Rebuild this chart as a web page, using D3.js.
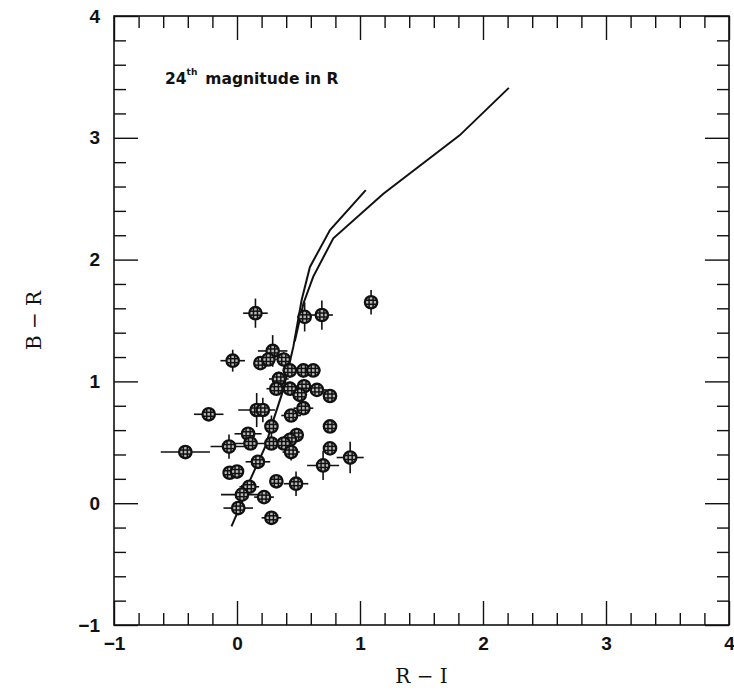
<!DOCTYPE html>
<html>
<head>
<meta charset="utf-8">
<script src="https://cdn.jsdelivr.net/npm/d3@7"></script>
<style>
  html, body { margin: 0; padding: 0; background: #fff; }
  svg { display: block; }
</style>
</head>
<body>
<svg id="chart" width="734" height="690"></svg>
<script>
// R - I colour of each galaxy
const riValues = [0.15, 1.09, 0.55, 0.69, -0.035, 0.29, 0.19, 0.255, 0.38, 0.43,
  0.54, 0.62, 0.34, 0.32, 0.43, 0.545, 0.65, 0.756, 0.51, 0.54,
  0.44, 0.16, 0.21, -0.23, 0.756, 0.28, 0.09, 0.485, 0.43, -0.42,
  -0.065, 0.11, 0.28, 0.38, 0.44, 0.756, 0.92, 0.17, 0.70, -0.06,
  0.0, 0.32, 0.48, 0.10, 0.04, 0.22, 0.01, 0.28];
// B - R colour of each galaxy
const brValues = [1.56, 1.65, 1.53, 1.545, 1.17, 1.25, 1.15, 1.18, 1.18, 1.09,
  1.09, 1.09, 1.02, 0.94, 0.94, 0.96, 0.93, 0.88, 0.89, 0.78,
  0.72, 0.765, 0.765, 0.73, 0.63, 0.63, 0.57, 0.56, 0.52, 0.42,
  0.465, 0.49, 0.49, 0.49, 0.42, 0.45, 0.375, 0.34, 0.31, 0.25,
  0.26, 0.18, 0.16, 0.135, 0.07, 0.05, -0.04, -0.12];
// 1-sigma errors
const riErrors = [0.10, 0.03, 0.06, 0.09, 0.10, 0.12, 0.05, 0.06, 0.06, 0.06,
  0.08, 0.06, 0.08, 0.08, 0.07, 0.08, 0.08, 0.02, 0.06, 0.08,
  0.08, 0.15, 0.06, 0.12, 0.02, 0.05, 0.11, 0.06, 0.08, 0.20,
  0.15, 0.15, 0.06, 0.07, 0.07, 0.03, 0.11, 0.10, 0.13, 0.03,
  0.04, 0.05, 0.10, 0.08, 0.17, 0.08, 0.12, 0.08];
const brErrors = [0.12, 0.10, 0.12, 0.12, 0.09, 0.13, 0.05, 0.05, 0.06, 0.06,
  0.06, 0.05, 0.06, 0.05, 0.06, 0.06, 0.05, 0.02, 0.05, 0.05,
  0.05, 0.14, 0.10, 0.04, 0.02, 0.09, 0.05, 0.06, 0.06, 0.03,
  0.10, 0.05, 0.05, 0.05, 0.07, 0.05, 0.13, 0.04, 0.12, 0.02,
  0.03, 0.04, 0.10, 0.05, 0.08, 0.05, 0.05, 0.03];

// Model colour tracks
const track1RI = [-0.045, 0.024, 0.106, 0.228, 0.295, 0.376, 0.458, 0.526, 0.593, 0.756, 1.047];
const track1BR = [-0.19, -0.03, 0.19, 0.46, 0.68, 0.93, 1.285, 1.67, 1.94, 2.243, 2.57];
const track2RI = [0.47, 0.54, 0.62, 0.783, 1.19, 1.81, 2.21];
const track2BR = [1.33, 1.64, 1.86, 2.175, 2.54, 3.02, 3.41];

const majorTicks = [-1, 0, 1, 2, 3, 4];
const minorTicks = d3.range(-10, 41, 2).map(v => v / 10).filter(v => !Number.isInteger(v));

(function draw() {
  const svg = d3.select("#chart");
  const x = d3.scaleLinear().domain([-1, 4]).range([114, 729]);
  const y = d3.scaleLinear().domain([-1, 4]).range([625, 16]);

  const tickFont = "'Liberation Sans', Arial, sans-serif";
  const titleFont = "'DejaVu Serif', 'Liberation Serif', serif";

  function styleAxis(g) {
    g.select(".domain").remove();
    g.selectAll(".tick line").attr("stroke", "#111").attr("stroke-width", 1.4);
    g.selectAll(".tick text")
      .attr("fill", "#111")
      .style("font-family", tickFont)
      .style("font-weight", "bold")
      .style("font-size", "19px");
  }

  const yBottom = y(-1), yTop = y(4), xLeft = x(-1), xRight = x(4);

  // minor ticks on all four sides, pointing inward
  svg.append("g").attr("transform", `translate(0,${yBottom})`)
    .call(d3.axisBottom(x).tickValues(minorTicks).tickSize(-12).tickFormat("")).call(styleAxis);
  svg.append("g").attr("transform", `translate(0,${yTop})`)
    .call(d3.axisTop(x).tickValues(minorTicks).tickSize(-12).tickFormat("")).call(styleAxis);
  svg.append("g").attr("transform", `translate(${xLeft},0)`)
    .call(d3.axisLeft(y).tickValues(minorTicks).tickSize(-12).tickFormat("")).call(styleAxis);
  svg.append("g").attr("transform", `translate(${xRight},0)`)
    .call(d3.axisRight(y).tickValues(minorTicks).tickSize(-12).tickFormat("")).call(styleAxis);

  // major ticks, labelled on the bottom and left
  svg.append("g").attr("transform", `translate(0,${yBottom})`)
    .call(d3.axisBottom(x).tickValues(majorTicks).tickSize(-24).tickPadding(12).tickFormat(d3.format("d")))
    .call(styleAxis);
  svg.append("g").attr("transform", `translate(0,${yTop})`)
    .call(d3.axisTop(x).tickValues(majorTicks).tickSize(-24).tickFormat("")).call(styleAxis);
  svg.append("g").attr("transform", `translate(${xLeft},0)`)
    .call(d3.axisLeft(y).tickValues(majorTicks).tickSize(-24).tickPadding(14).tickFormat(d3.format("d")))
    .call(styleAxis);
  svg.append("g").attr("transform", `translate(${xRight},0)`)
    .call(d3.axisRight(y).tickValues(majorTicks).tickSize(-24).tickFormat("")).call(styleAxis);

  // frame
  svg.append("rect")
    .attr("x", xLeft).attr("y", yTop)
    .attr("width", xRight - xLeft).attr("height", yBottom - yTop)
    .attr("fill", "none").attr("stroke", "#111").attr("stroke-width", 1.6);

  // axis titles
  svg.append("text")
    .attr("x", x(1.5)).attr("y", 683)
    .attr("text-anchor", "middle")
    .style("font-family", titleFont).style("font-size", "20px").attr("fill", "#111")
    .text("R − I");
  svg.append("text")
    .attr("transform", `translate(41,${y(1.5)}) rotate(-90)`)
    .attr("text-anchor", "middle")
    .style("font-family", titleFont).style("font-size", "20px").attr("fill", "#111")
    .text("B − R");

  // annotation
  const note = svg.append("text")
    .attr("x", 165).attr("y", 84)
    .style("font-family", "'DejaVu Sans', sans-serif").style("font-weight", "bold")
    .style("font-size", "15.5px").attr("fill", "#111");
  note.append("tspan").text("24");
  note.append("tspan").attr("dy", -9).style("font-size", "9px").text("th");
  note.append("tspan").attr("dy", 9).attr("dx", 8).text("magnitude in R");

  // model tracks
  const line = d3.line().x(d => x(d[0])).y(d => y(d[1]));
  const tracks = [d3.zip(track1RI, track1BR), d3.zip(track2RI, track2BR)];
  svg.append("g").selectAll("path").data(tracks).join("path")
    .attr("d", line)
    .attr("fill", "none").attr("stroke", "#111").attr("stroke-width", 2);

  // galaxies with error bars
  const pts = riValues.map((ri, i) => ({ ri, br: brValues[i], ex: riErrors[i], ey: brErrors[i] }));
  const gp = svg.append("g").attr("stroke", "#111");
  gp.selectAll("line.ex").data(pts).join("line").attr("class", "ex")
    .attr("x1", d => x(d.ri - d.ex)).attr("x2", d => x(d.ri + d.ex))
    .attr("y1", d => y(d.br)).attr("y2", d => y(d.br))
    .attr("stroke-width", 1.6);
  gp.selectAll("line.ey").data(pts).join("line").attr("class", "ey")
    .attr("x1", d => x(d.ri)).attr("x2", d => x(d.ri))
    .attr("y1", d => y(d.br - d.ey)).attr("y2", d => y(d.br + d.ey))
    .attr("stroke-width", 1.6);

  const r = 6.2;
  const marks = gp.selectAll("g.m").data(pts).join("g").attr("class", "m")
    .attr("transform", d => `translate(${x(d.ri)},${y(d.br)})`);
  marks.append("circle").attr("r", r).attr("fill", "#b8b8b8").attr("stroke-width", 2.3);
  // hatch inside each marker
  [-2, 2].forEach(o => {
    const h = Math.sqrt(r * r - o * o);
    marks.append("line").attr("x1", o).attr("x2", o).attr("y1", -h).attr("y2", h)
      .attr("stroke-width", 1.5);
    marks.append("line").attr("y1", o).attr("y2", o).attr("x1", -h).attr("x2", h)
      .attr("stroke-width", 1.5);
  });
})();
</script>
</body>
</html>
